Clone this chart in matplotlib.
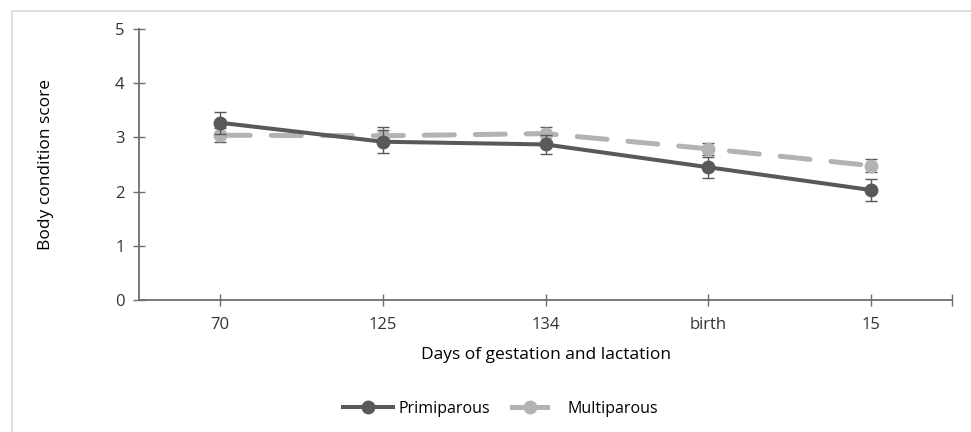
import numpy as np
import matplotlib
matplotlib.use('Agg')
import matplotlib.pyplot as plt
from matplotlib.patches import Rectangle
from matplotlib.lines import Line2D

# values
days = ['70', '125', '134', 'birth', '15']
primiparous = [3.27, 2.92, 2.87, 2.45, 2.03]
primiparous_err = [0.20, 0.21, 0.18, 0.19, 0.20]
multiparous = [3.04, 3.03, 3.07, 2.79, 2.48]
multiparous_err = [0.13, 0.16, 0.13, 0.11, 0.12]

plt.rcParams['font.family'] = ['Open Sans', 'DejaVu Sans']

dark = '#595959'
light = '#b3b3b3'
axcol = '#6e6e6e'
txtcol = '#333333'

fig = plt.figure(figsize=(9.71, 4.32), dpi=100)
ax = fig.add_axes([139/971, 1 - 300/432, (952 - 139)/971, (300 - 29)/432])

# light outer frame
fig.patches.append(Rectangle((12/971, -0.1), 1.2, 1 - 11/432 + 0.1, transform=fig.transFigure,
                             fill=False, edgecolor='#d9d9d9', lw=1.2, zorder=0))

x = np.arange(len(days))

ax.errorbar(x, primiparous, yerr=primiparous_err, color=dark, lw=2.9, marker='o', ms=9,
            ecolor=dark, elinewidth=1, capsize=4.3, capthick=1, zorder=3)
ml = ax.errorbar(x, multiparous, yerr=multiparous_err, color=light, lw=3.6, marker='o', ms=9,
                 ecolor=dark, elinewidth=1, capsize=4.3, capthick=1,
                 linestyle=(0, (6, 4.2)), zorder=2)
ml.lines[0].set_dash_capstyle('round')

ax.set_xlim(-0.5, 4.5)
ax.set_ylim(0, 5)
ax.set_yticks(range(6))
ax.set_xticks(list(x) + [4.5])
ax.set_xticklabels(days + [''])

for s in ['top', 'right']:
    ax.spines[s].set_visible(False)
for s in ['left', 'bottom']:
    ax.spines[s].set_color(axcol)
    ax.spines[s].set_linewidth(1.3)

ax.tick_params(axis='both', direction='inout', length=9, width=1, color=axcol,
               labelcolor=txtcol, labelsize=12)
ax.tick_params(axis='x', pad=8)
ax.tick_params(axis='y', pad=6)

ax.set_ylabel('Body condition score', fontsize=12.5, color='black', labelpad=44)
ax.set_xlabel('Days of gestation and lactation', fontsize=12.5, color='black', labelpad=10)

# two one-entry legends, so each handle gets its own length
ly = 1 - 409/432
h1 = Line2D([], [], color=dark, lw=2.9, marker='o', ms=9)
h2 = Line2D([], [], color=light, lw=3.6, marker='o', ms=9)
fig.legend([h1], ['Primiparous'], loc='center left', bbox_to_anchor=(343/971, ly),
           frameon=False, fontsize=11.5, handlelength=3.1, handletextpad=0.4,
           borderpad=0, borderaxespad=0)
fig.legend([h2], ['Multiparous'], loc='center left', bbox_to_anchor=(512/971, ly),
           frameon=False, fontsize=11.5, handlelength=2.2, handletextpad=1.3,
           borderpad=0, borderaxespad=0)

fig.savefig('out.png', dpi=100)
